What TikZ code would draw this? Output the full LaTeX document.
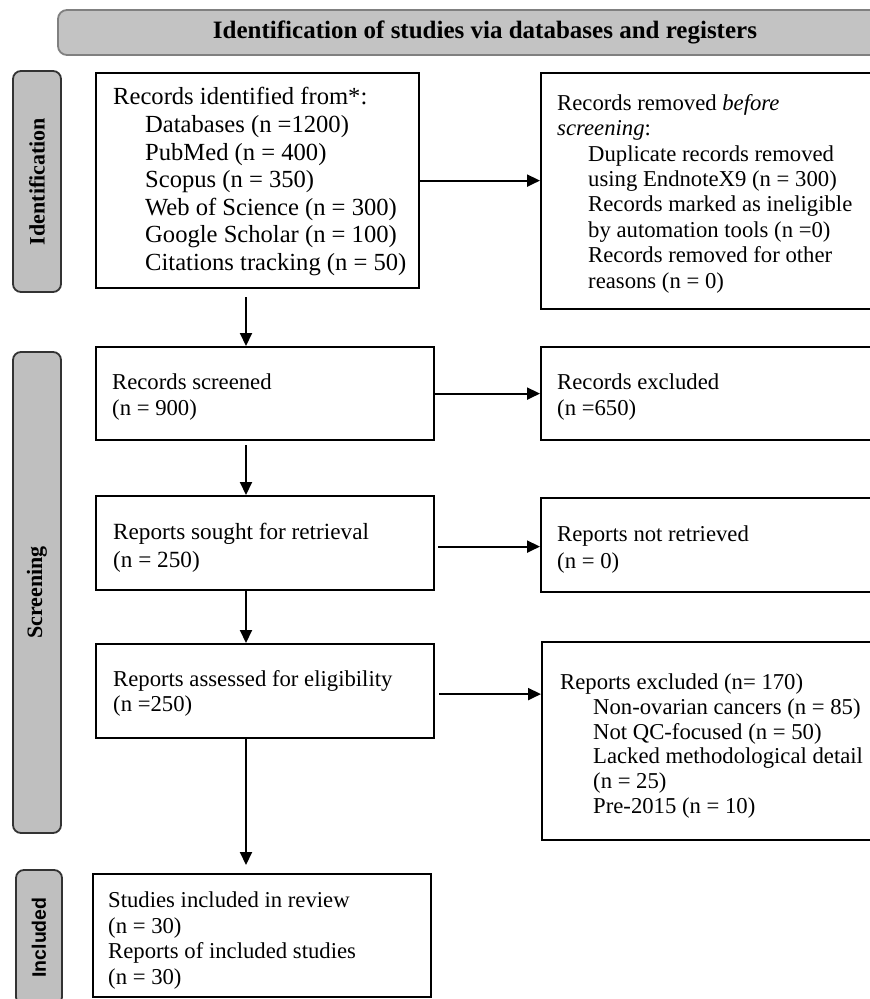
\documentclass[tikz,border=0pt]{standalone}
\usepackage{fontspec}
\setmainfont{Liberation Serif}
\newfontfamily\sansbold{Liberation Sans}
\usetikzlibrary{arrows.meta}
\definecolor{lblgray}{HTML}{BFBFBF}
\definecolor{hdrgray}{HTML}{C3C3C3}
\definecolor{hdrline}{HTML}{808080}
\newcommand{\ind}{\hspace*{32pt}}
\begin{document}
\begin{tikzpicture}[x=1pt,y=-1pt,
  box/.style={draw=black, line width=2.2pt, anchor=north west, inner sep=0pt},
  txt/.style={anchor=west, align=left, inner sep=0pt, font=\fontsize{22.7}{25.4}\selectfont},
  txtbig/.style={anchor=west, align=left, inner sep=0pt, font=\fontsize{24.6}{27.6}\selectfont},
  side/.style={draw=black!80, fill=lblgray, line width=1.8pt, rounded corners=8pt, rotate=90, inner sep=0pt, font=\bfseries\fontsize{22}{24}\selectfont},
  header/.style={draw=hdrline, fill=hdrgray, line width=1.8pt, rounded corners=9pt, inner sep=0pt, font=\bfseries\fontsize{25}{28}\selectfont},
  arr/.style={line width=2pt, -{Triangle[length=13pt,width=12pt]}},
]
\useasboundingbox (0,0) rectangle (870,999);
\clip (0,0) rectangle (870,999);
\fill[white] (0,0) rectangle (870,999);

% header
\node[header, minimum width=854pt, minimum height=45pt] (hdr) at (485,32.5) {Identification of studies via databases and registers};

% side labels
\node[side, minimum width=221pt, minimum height=48pt] (sid) at (37,181.5) {Identification};
\node[side, minimum width=481pt, minimum height=48pt] (ssc) at (37,592.5) {Screening};
\node[side, minimum width=135pt, minimum height=46pt, font=\sansbold\bfseries\fontsize{19.5}{22}\selectfont] (sin) at (39,937.5) {Included};

% left column boxes
\node[box, minimum width=323pt, minimum height=215pt] (idf) at (95,72) {};
\node[box, minimum width=338pt, minimum height=93pt] (scr) at (95,346) {};
\node[box, minimum width=338pt, minimum height=94pt] (sgt) at (95,495) {};
\node[box, minimum width=338pt, minimum height=94pt] (ass) at (95,643) {};
\node[box, minimum width=338pt, minimum height=123pt] (inc) at (92,873) {};

% right column boxes
\node[box, minimum width=360pt, minimum height=236pt] (rem) at (540,72) {};
\node[box, minimum width=360pt, minimum height=93pt] (exc) at (540,346) {};
\node[box, minimum width=360pt, minimum height=94pt] (nrt) at (540,497) {};
\node[box, minimum width=360pt, minimum height=198pt] (rex) at (541,641) {};

% texts
\node[txtbig] (idft) at ([xshift=18pt,yshift=-1pt]idf.west) {Records identified from*:\\
\ind Databases (n =1200)\\
\ind PubMed (n = 400)\\
\ind Scopus (n = 350)\\
\ind Web of Science (n = 300)\\
\ind Google Scholar (n = 100)\\
\ind Citations tracking (n = 50)};
\node[txt] (remt) at ([xshift=17pt,yshift=-2.5pt]rem.west) {Records removed \textit{before}\\
\textit{screening}:\\
\hspace*{31pt}Duplicate records removed\\
\hspace*{31pt}using EndnoteX9 (n = 300)\\
\hspace*{31pt}Records marked as ineligible\\
\hspace*{31pt}by automation tools (n =0)\\
\hspace*{31pt}Records removed for other\\
\hspace*{31pt}reasons (n = 0)};
\node[txt, font=\fontsize{22.7}{26}\selectfont] (scrt) at ([xshift=17pt,yshift=-3pt]scr.west) {Records screened\\(n = 900)};
\node[txt, font=\fontsize{22.7}{26}\selectfont] (exct) at ([xshift=17pt,yshift=-3pt]exc.west) {Records excluded\\(n =650)};
\node[txt, font=\fontsize{23.2}{28}\selectfont] (sgtt) at ([xshift=18pt,yshift=-5pt]sgt.west) {Reports sought for retrieval\\(n = 250)};
\node[txt, font=\fontsize{22.7}{27}\selectfont] (nrtt) at ([xshift=17pt,yshift=-4.5pt]nrt.west) {Reports not retrieved\\(n = 0)};
\node[txt] (asst) at ([xshift=18pt,yshift=-2.5pt]ass.west) {Reports assessed for eligibility\\(n =250)};
\node[txt, font=\fontsize{22.7}{24.8}\selectfont] (rext) at ([xshift=19pt,yshift=-5pt]rex.west) {Reports excluded (n= 170)\\
\hspace*{33pt}Non-ovarian cancers (n = 85)\\
\hspace*{33pt}Not QC-focused (n = 50)\\
\hspace*{33pt}Lacked methodological detail\\
\hspace*{33pt}(n = 25)\\
\hspace*{33pt}Pre-2015 (n = 10)};
\node[txt, font=\fontsize{22.7}{25.6}\selectfont] (inct) at ([xshift=16pt,yshift=-5pt]inc.west) {Studies included in review\\
(n = 30)\\
Reports of included studies\\
(n = 30)};

% connectors
\coordinate (ax) at (246,0);
\draw[arr, shorten <=8pt] (idf.south -| ax) -- (scr.north -| ax);
\draw[arr, shorten <=4pt] (scr.south -| ax) -- (sgt.north -| ax);
\draw[arr] (sgt.south -| ax) -- (ass.north -| ax);
\draw[arr] (ass.south -| ax) -- ([yshift=8pt]inc.north -| ax);
\draw[arr] (idf.east) -- (rem.west |- idf.east);
\draw[arr] (scr.east) -- (exc.west |- scr.east);
\draw[arr, shorten <=3pt] ([yshift=-3.5pt]sgt.east) -- ([yshift=-3.5pt]nrt.west |- sgt.east);
\draw[arr, shorten <=4pt] ([yshift=-3pt]ass.east) -- ([yshift=-3pt]rex.west |- ass.east);
\end{tikzpicture}
\end{document}
